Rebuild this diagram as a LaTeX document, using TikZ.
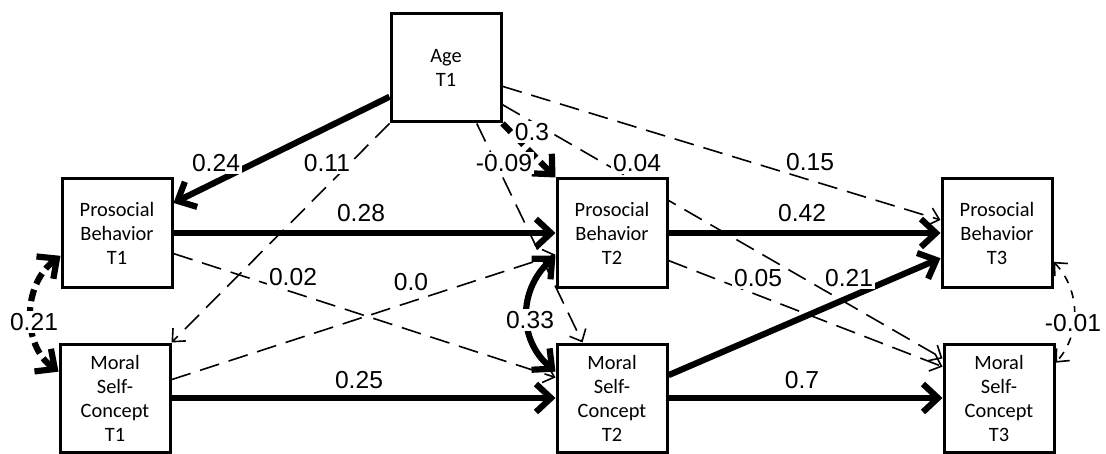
\documentclass[tikz,border=0pt]{standalone}
\usepackage{fontspec}
\setmainfont{Liberation Sans}
\newfontfamily\boxfont{Carlito}
\usetikzlibrary{arrows.meta,backgrounds}

\begin{document}
\begin{tikzpicture}[x=0.5pt, y=-0.5pt,
		box/.style={draw, line width=1.5pt, fill=white, minimum width=55pt, minimum height=54pt, inner sep=0pt, align=center, font=\boxfont\fontsize{10.2}{12}\selectfont},
		num/.style={fill=white, inner sep=1pt, font=\fontsize{12.3}{14}\selectfont},
		strong/.style={line width=3.1pt, >={Straight Barb[length=7.5pt,width=14pt]}, ->},
		strongdash/.style={strong, dash pattern=on 6pt off 3pt},
		weak/.style={line width=0.8pt, dash pattern=on 10pt off 5pt, >={Straight Barb[length=5pt,width=9pt]}, ->}]
		\useasboundingbox (0,0) rectangle (1106,454);
		\node[box] (A) at (446,68) {Age\\T1};
		\node[box] (P1) at (117,233) {Prosocial\\Behavior\\T1};
		\node[box] (M1) at (115,398) {Moral\\Self-\\Concept\\T1};
		\node[box] (P2) at (612,233) {Prosocial\\Behavior\\T2};
		\node[box] (M2) at (612,398) {Moral\\Self-\\Concept\\T2};
		\node[box] (P3) at (997,233) {Prosocial\\Behavior\\T3};
		\node[box] (M3) at (999,398) {Moral\\Self-\\Concept\\T3};
		\begin{scope}[on background layer]
			\draw[strong] (A.207) -- (P1.28);
			\draw[weak] (A.south west) -- (M1.north east);
			\draw[strongdash] (A.south east) -- (P2.north west);
			\draw[weak] (A.299) -- (M2.118);
			\draw[weak] (A.327) -- (M3.145);
			\draw[weak] (A.342) -- (P3.167);
			\draw[strong] (P1) -- (P2);
			\draw[strong] (P2) -- (P3);
			\draw[strong] (M1) -- (M2);
			\draw[strong] (M2) -- (M3);
			\draw[strong] (M2.22) -- (P3.204);
			\draw[weak] (P1.340) -- (M2.160);
			\draw[weak] (M1.18) -- (P2.201);
			\draw[weak] (P2.334) -- (M3.151);
			\draw[strongdash, <->] (P1.202) .. controls (22,285) and (22,345) .. (M1.155);
			\draw[strong, <->] (P2.202) .. controls (518,290) and (518,340) .. (M2.155);
			\draw[weak, <->, dash pattern=on 4pt off 4pt] (P3.333) .. controls (1081,290) and (1081,335) .. (M3.32);
		\end{scope}
		\node[num] (c24) at (216,163) {0.24};
		\node[num] (c11) at (327,163) {0.11};
		\node[num] (c3) at (532,132) {0.3};
		\node[num] (c09) at (504,163) {-0.09};
		\node[num] (c04) at (637,163) {0.04};
		\node[num] (c15) at (810,162) {0.15};
		\node[num] (c28) at (361,213) {0.28};
		\node[num] (c42) at (802,213) {0.42};
		\node[num] (c02) at (293,277) {0.02};
		\node[num] (c00) at (411,282) {0.0};
		\node[num] (c05) at (758,278) {0.05};
		\node[num] (c21b) at (849,278) {0.21};
		\node[num] (c21a) at (34,322) {0.21};
		\node[num] (c33) at (530,320) {0.33};
		\node[num] (c01) at (1073,323) {-0.01};
		\node[num] (c25) at (359,380) {0.25};
		\node[num] (c7) at (802,380) {0.7};
	\end{tikzpicture}
\end{document}
